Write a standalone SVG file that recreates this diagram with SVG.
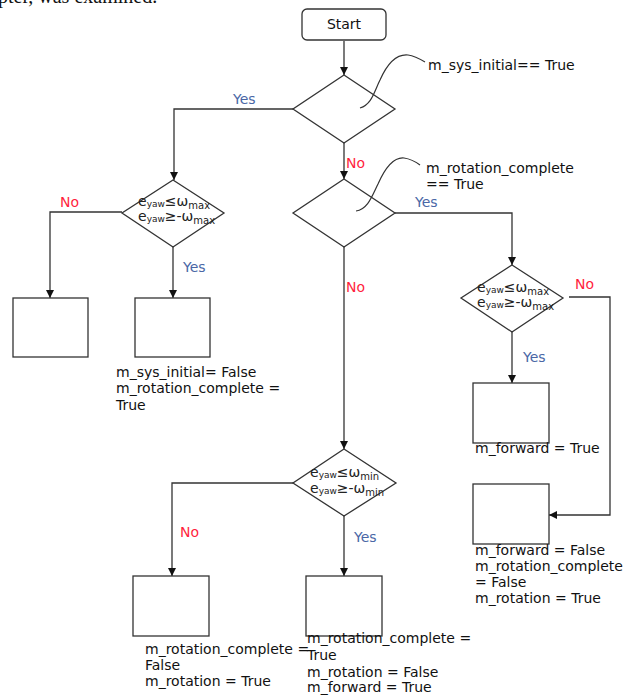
<svg xmlns="http://www.w3.org/2000/svg" width="624" height="696" viewBox="0 0 624 696">
<style>
.ln{fill:none;stroke:#333;stroke-width:1.3}
.sh{fill:#fff;stroke:#333;stroke-width:1.3}
.t{font-family:"DejaVu Sans",Verdana,sans-serif;font-size:14px;fill:#111}
.y{font-family:"DejaVu Sans",Verdana,sans-serif;font-size:14px;fill:#4a67a6}
.n{font-family:"DejaVu Sans",Verdana,sans-serif;font-size:14px;fill:#ff1f3d}
.d{font-family:"DejaVu Sans",Verdana,sans-serif;font-size:14px;fill:#222}
.s{font-size:9px}
.m{font-size:10px}
.cl{fill:none;stroke:#333;stroke-width:1.2}
</style>
<defs>
<marker id="ah" viewBox="0 0 10 10" refX="10" refY="5" markerWidth="8" markerHeight="8" markerUnits="userSpaceOnUse" orient="auto">
<path d="M0,0 L10,5 L0,10 z" fill="#111"/>
</marker>
</defs>
<text x="-2" y="3" font-family="Liberation Serif,serif" font-size="20" fill="#111">pter, was examined.</text>

<g id="connectors">
<path class="ln" d="M344,41 V75" marker-end="url(#ah)"/>
<path class="ln" d="M293,109 H174 V180" marker-end="url(#ah)"/>
<path class="ln" d="M344,143 V179" marker-end="url(#ah)"/>
<path class="ln" d="M122,212 H50 V298" marker-end="url(#ah)"/>
<path class="ln" d="M173,247 V298" marker-end="url(#ah)"/>
<path class="ln" d="M395,213 H512 V265" marker-end="url(#ah)"/>
<path class="ln" d="M344,247 V449" marker-end="url(#ah)"/>
<path class="ln" d="M512,332 V383" marker-end="url(#ah)"/>
<path class="ln" d="M569,297 H610 V515 H549" marker-end="url(#ah)"/>
<path class="ln" d="M293,483 H172 V576" marker-end="url(#ah)"/>
<path class="ln" d="M344,516 V576" marker-end="url(#ah)"/>
<text class="y" x="233" y="104">Yes</text>
<text class="n" x="346" y="168">No</text>
<text class="n" x="60" y="207">No</text>
<text class="y" x="183" y="272">Yes</text>
<text class="y" x="415" y="207">Yes</text>
<text class="n" x="346" y="292">No</text>
<text class="n" x="575" y="289">No</text>
<text class="y" x="523" y="362">Yes</text>
<text class="n" x="180" y="537">No</text>
<text class="y" x="354" y="542">Yes</text>
</g>

<g id="start">
<rect class="sh" x="302" y="9" width="84" height="31" rx="5"/>
<text class="t" x="344" y="29" text-anchor="middle">Start</text>
</g>

<g id="d1">
<path class="sh" d="M344,75 L395,109 L344,143 L293,109 Z"/>
<path class="cl" d="M360,108 C372,104 374,92 380,80 C388,62 398,54 408,55 C415,56 420,59 425,62"/>
<text class="t" x="428" y="70">m_sys_initial== True</text>
</g>

<g id="d2">
<path class="sh" d="M173,180 L224,213 L173,247 L122,213 Z"/>
<text class="d" x="138" y="206">e<tspan class="s" dy="0.5">yaw</tspan><tspan dy="-0.5">≤ω</tspan><tspan class="m" dy="3">max</tspan></text>
<text class="d" x="138" y="221">e<tspan class="s" dy="0.5">yaw</tspan><tspan dy="-0.5">≥-ω</tspan><tspan class="m" dy="3">max</tspan></text>
</g>

<g id="d3">
<path class="sh" d="M344,179 L395,213 L344,247 L293,213 Z"/>
<path class="cl" d="M356,211 C368,209 372,196 378,184 C386,166 394,157 404,158 C411,159 416,162 420,165"/>
<text class="t" x="426" y="173">m_rotation_complete</text>
<text class="t" x="426" y="189">== True</text>
</g>

<g id="d4">
<path class="sh" d="M512,265 L563,298 L512,332 L461,298 Z"/>
<text class="d" x="477" y="292">e<tspan class="s" dy="0.5">yaw</tspan><tspan dy="-0.5">≤ω</tspan><tspan class="m" dy="3">max</tspan></text>
<text class="d" x="477" y="307">e<tspan class="s" dy="0.5">yaw</tspan><tspan dy="-0.5">≥-ω</tspan><tspan class="m" dy="3">max</tspan></text>
</g>

<g id="d5">
<path class="sh" d="M344,449 L396,483 L344,516 L293,483 Z"/>
<text class="d" x="310" y="477">e<tspan class="s" dy="0.5">yaw</tspan><tspan dy="-0.5">≤ω</tspan><tspan class="m" dy="3">min</tspan></text>
<text class="d" x="310" y="493">e<tspan class="s" dy="0.5">yaw</tspan><tspan dy="-0.5">≥-ω</tspan><tspan class="m" dy="3">min</tspan></text>
</g>

<g id="b1">
<rect class="sh" x="13" y="298" width="75" height="59"/>
</g>

<g id="b2">
<rect class="sh" x="135" y="298" width="75" height="59"/>
<text class="t" x="116" y="377">m_sys_initial= False</text>
<text class="t" x="116" y="393">m_rotation_complete =</text>
<text class="t" x="116" y="410">True</text>
</g>

<g id="b3">
<rect class="sh" x="473" y="383" width="76" height="60"/>
<text class="t" x="475" y="453">m_forward = True</text>
</g>

<g id="b4">
<rect class="sh" x="473" y="484" width="76" height="60"/>
<text class="t" x="475" y="555">m_forward = False</text>
<text class="t" x="475" y="571">m_rotation_complete</text>
<text class="t" x="475" y="587">= False</text>
<text class="t" x="475" y="603">m_rotation = True</text>
</g>

<g id="b5">
<rect class="sh" x="133" y="576" width="76" height="60"/>
<text class="t" x="145" y="654">m_rotation_complete =</text>
<text class="t" x="145" y="670">False</text>
<text class="t" x="145" y="686">m_rotation = True</text>
</g>

<g id="b6">
<rect class="sh" x="306" y="576" width="76" height="60"/>
<text class="t" x="307" y="643">m_rotation_complete =</text>
<text class="t" x="307" y="660">True</text>
<text class="t" x="307" y="677">m_rotation = False</text>
<text class="t" x="307" y="692">m_forward = True</text>
</g>
</svg>
